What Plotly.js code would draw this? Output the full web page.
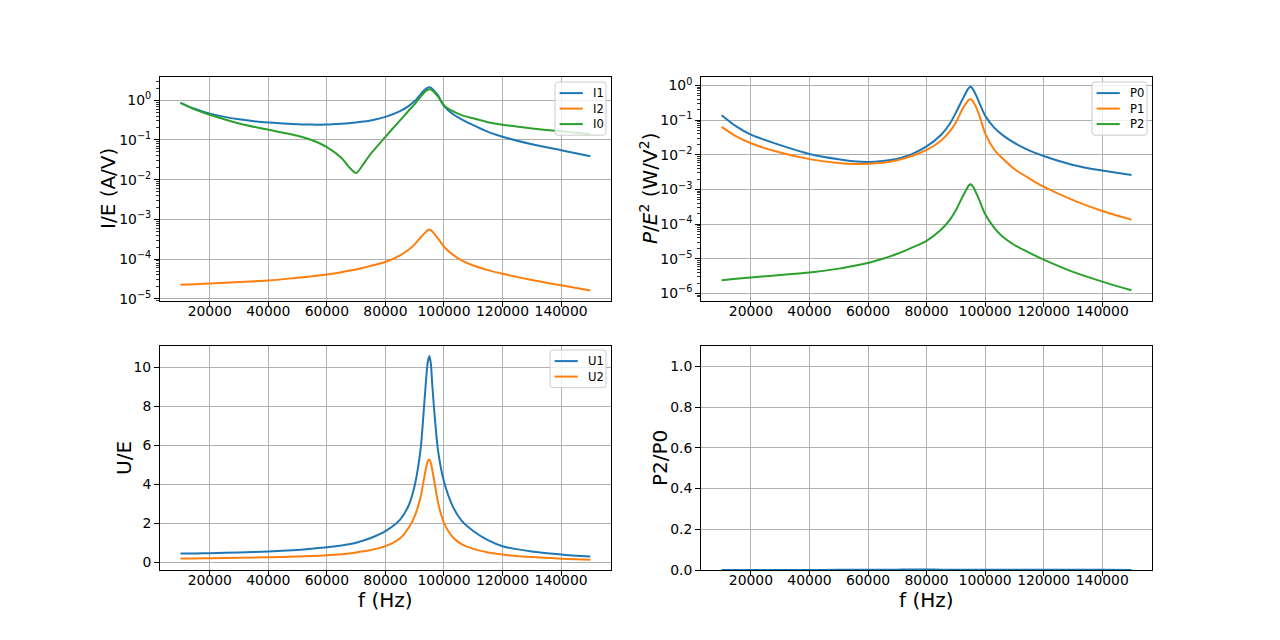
<!DOCTYPE html>
<html>
<head>
<meta charset="utf-8">
<script src="https://cdn.plot.ly/plotly-3.0.1.min.js"></script>
<style>html,body{margin:0;padding:0;background:#fff;}#chart{width:1280px;height:640px;}</style>
</head>
<body>
<div id="chart"></div>
<script>
// Frequency samples (Hz)
const freq = [10000, 15000, 20000, 30000, 40000, 50000, 55000, 60000, 65000, 67500, 70000, 72500, 75000, 80000, 85000, 88000, 90000, 92000, 93000, 94000, 94500, 95000, 95500, 96000, 97000, 98000, 100000, 103000, 106000, 110000, 115000, 120000, 130000, 140000, 150000];

// Currents I/E (A/V)
const I1 = [0.86, 0.60, 0.46, 0.33, 0.274, 0.25, 0.243, 0.245, 0.256, 0.263, 0.274, 0.29, 0.31, 0.38, 0.53, 0.72, 0.95, 1.40, 1.70, 1.98, 2.08, 2.12, 2.07, 1.92, 1.6, 1.3, 0.72, 0.45, 0.33, 0.235, 0.16, 0.12, 0.078, 0.055, 0.039];
const I2 = [2.26e-5, 2.35e-5, 2.45e-5, 2.65e-5, 2.9e-5, 3.4e-5, 3.7e-5, 4.1e-5, 4.7e-5, 5.1e-5, 5.5e-5, 6.1e-5, 6.8e-5, 8.5e-5, 1.25e-4, 1.75e-4, 2.35e-4, 3.5e-4, 4.2e-4, 5.0e-4, 5.4e-4, 5.6e-4, 5.4e-4, 5.0e-4, 4.1e-4, 3.3e-4, 2.05e-4, 1.3e-4, 9.3e-5, 6.9e-5, 5.3e-5, 4.3e-5, 3.0e-5, 2.2e-5, 1.63e-5];
const I0 = [0.86, 0.58, 0.43, 0.26, 0.18, 0.128, 0.098, 0.066, 0.035, 0.021, 0.0148, 0.025, 0.045, 0.12, 0.31, 0.55, 0.80, 1.22, 1.5, 1.75, 1.82, 1.89, 1.85, 1.75, 1.5, 1.22, 0.74, 0.53, 0.42, 0.35, 0.28, 0.24, 0.195, 0.165, 0.142];

// Powers P/E^2 (W/V^2)
const P0 = [0.139, 0.066, 0.038, 0.019, 0.0106, 0.0074, 0.0065, 0.0062, 0.0066, 0.0071, 0.0077, 0.0088, 0.0105, 0.0175, 0.038, 0.08, 0.165, 0.36, 0.52, 0.76, 0.86, 0.92, 0.86, 0.74, 0.5, 0.32, 0.135, 0.062, 0.037, 0.022, 0.0135, 0.0092, 0.0051, 0.0035, 0.0026];
const P1 = [0.064, 0.034, 0.0215, 0.0116, 0.0075, 0.0058, 0.0054, 0.0055, 0.0059, 0.0063, 0.007, 0.0079, 0.0092, 0.0138, 0.026, 0.048, 0.085, 0.19, 0.265, 0.35, 0.39, 0.40, 0.38, 0.33, 0.23, 0.14, 0.042, 0.0145, 0.0078, 0.0039, 0.0021, 0.0012, 0.00049, 0.00024, 0.000135];
const P2 = [2.4e-6, 2.65e-6, 2.9e-6, 3.4e-6, 4.0e-6, 5.2e-6, 6.2e-6, 7.6e-6, 1.0e-5, 1.17e-5, 1.4e-5, 1.7e-5, 2.1e-5, 3.3e-5, 7.0e-5, 1.35e-4, 2.5e-4, 5.5e-4, 8.0e-4, 1.15e-3, 1.32e-3, 1.42e-3, 1.33e-3, 1.15e-3, 7.8e-4, 5.0e-4, 1.95e-4, 8.0e-5, 4.3e-5, 2.5e-5, 1.5e-5, 9.5e-6, 4.2e-6, 2.2e-6, 1.23e-6];

// Voltages U/E
const U1 = [0.466, 0.47, 0.48, 0.52, 0.57, 0.65, 0.71, 0.78, 0.88, 0.94, 1.02, 1.13, 1.26, 1.61, 2.2, 2.95, 3.95, 5.8, 7.6, 9.6, 10.3, 10.58, 10.2, 9.1, 7.2, 5.7, 4.15, 2.88, 2.15, 1.62, 1.15, 0.84, 0.57, 0.42, 0.31];
const U2 = [0.21, 0.215, 0.22, 0.245, 0.27, 0.31, 0.34, 0.375, 0.43, 0.47, 0.52, 0.58, 0.64, 0.84, 1.25, 1.8, 2.38, 3.35, 4.15, 4.95, 5.2, 5.28, 5.12, 4.75, 3.9, 3.05, 2.03, 1.3, 0.95, 0.70, 0.52, 0.41, 0.28, 0.2, 0.14];

// Ratio P2/P0
const RATIO = [1.7e-5, 4.0e-5, 7.6e-5, 1.8e-4, 3.8e-4, 7.0e-4, 9.5e-4, 1.2e-3, 1.5e-3, 1.6e-3, 1.8e-3, 1.9e-3, 2.0e-3, 1.9e-3, 1.8e-3, 1.7e-3, 1.5e-3, 1.5e-3, 1.5e-3, 1.55e-3, 1.55e-3, 1.54e-3, 1.55e-3, 1.55e-3, 1.56e-3, 1.56e-3, 1.45e-3, 1.3e-3, 1.16e-3, 1.14e-3, 1.1e-3, 1.03e-3, 8.2e-4, 6.3e-4, 4.7e-4];

// Tick definitions
const xTicks = [20000, 40000, 60000, 80000, 100000, 120000, 140000];
const logTicksA = [1e-5, 1e-4, 1e-3, 1e-2, 1e-1, 1];
const logTicksB = [1e-6, 1e-5, 1e-4, 1e-3, 1e-2, 1e-1, 1];
const uTicks = [0, 2, 4, 6, 8, 10];
const rTicks = [0, 0.2, 0.4, 0.6, 0.8, 1.0];

const C0 = '#1f77b4', C1 = '#ff7f0e', C2 = '#2ca02c';
const FONT = 'DejaVu Sans, sans-serif';
const TICKFONT = {family: FONT, size: 13.9, color: '#000'};
const TITLESIZE = 20;
const LEGFONT = 11.6;

// plot area in pixels (figure fractions of matplotlib default subplot params)
const M = {l: 160, r: 128, t: 77, b: 70};
const PW = 1280 - M.l - M.r, PH = 640 - M.t - M.b;
const px2x = function (px) { return (px - M.l) / PW; };
const py2y = function (py) { return (640 - M.b - py) / PH; };

function powLabel(v) {
  const e = Math.round(Math.log10(v));
  return '10<sup>' + (e < 0 ? '\u2212' + (-e) : e) + '</sup>';
}
function minorVals(ticks) {
  const out = [];
  ticks.forEach(function (t) { for (let k = 2; k <= 9; k++) out.push(t * k); });
  out.push(ticks[0] / 10 * 9, ticks[0] / 10 * 8);
  return out;
}

function lineTrace(y, name, color, xa, ya) {
  return {x: freq, y: y, name: name, type: 'scatter', mode: 'lines',
    line: {color: color, width: 2, shape: 'spline', smoothing: 0.8},
    xaxis: xa, yaxis: ya, showlegend: false, hoverinfo: 'skip'};
}

const data = [
  lineTrace(I1, 'I1', C0, 'x', 'y'),
  lineTrace(I2, 'I2', C1, 'x', 'y'),
  lineTrace(I0, 'I0', C2, 'x', 'y'),
  lineTrace(P0, 'P0', C0, 'x2', 'y2'),
  lineTrace(P1, 'P1', C1, 'x2', 'y2'),
  lineTrace(P2, 'P2', C2, 'x2', 'y2'),
  lineTrace(U1, 'U1', C0, 'x3', 'y3'),
  lineTrace(U2, 'U2', C1, 'x3', 'y3'),
  lineTrace(RATIO, 'P2/P0', C0, 'x4', 'y4')
];

function xAxis(domain, anchor) {
  return {domain: domain, anchor: anchor, range: [3000, 157000],
    tickmode: 'array', tickvals: xTicks, ticktext: xTicks.map(String),
    ticks: 'outside', ticklen: 5, tickwidth: 1, tickcolor: '#000', ticklabelstandoff: -8,
    showline: true, mirror: true, linecolor: '#000', linewidth: 1,
    showgrid: true, gridcolor: '#b0b0b0', gridwidth: 1, zeroline: false,
    tickfont: TICKFONT, automargin: false};
}
function yAxis(domain, anchor, opts) {
  return Object.assign({domain: domain, anchor: anchor,
    ticks: 'outside', ticklen: 5, tickwidth: 1, tickcolor: '#000',
    showline: true, mirror: true, linecolor: '#000', linewidth: 1,
    showgrid: true, gridcolor: '#b0b0b0', gridwidth: 1, zeroline: false,
    tickfont: TICKFONT, automargin: false}, opts);
}

const shapes = [], annotations = [];

// Axis titles (placed like matplotlib labels)
const axisTitles = [
  {text: 'I/E (A/V)', cx: 108, cy: 189, angle: -90},
  {text: '<i>P</i>/<i>E</i><sup>2</sup> (W/V<sup>2</sup>)', cx: 649, cy: 189, angle: -90},
  {text: 'U/E', cx: 124, cy: 458, angle: -90},
  {text: 'P2/P0', cx: 660, cy: 458, angle: -90},
  {text: 'f (Hz)', cx: 385.5, cy: 600, angle: 0},
  {text: 'f (Hz)', cx: 926.5, cy: 600, angle: 0}
];
axisTitles.forEach(function (t) {
  annotations.push({xref: 'paper', yref: 'paper', x: px2x(t.cx), y: py2y(t.cy),
    xanchor: 'center', yanchor: 'middle', showarrow: false, text: t.text, textangle: t.angle,
    font: {family: FONT, size: TITLESIZE, color: '#000'}, borderpad: 0});
});

// Legends (matplotlib-style framed boxes), built from the traces they describe
const legends = [
  {traces: [0, 1, 2], left: 555, right: 606, top: 82, rowPitch: 15.5},
  {traces: [3, 4, 5], left: 1092, right: 1147, top: 82, rowPitch: 15.5},
  {traces: [6, 7], left: 550, right: 606, top: 350, rowPitch: 15.5}
];
function roundRectPath(x0, y0, x1, y1, r) {
  const rx = r / PW, ry = r / PH;
  const a = px2x(x0), b = px2x(x1), c = py2y(y1), d = py2y(y0);
  return 'M ' + (a + rx) + ' ' + c + ' L ' + (b - rx) + ' ' + c +
    ' Q ' + b + ' ' + c + ' ' + b + ' ' + (c + ry) + ' L ' + b + ' ' + (d - ry) +
    ' Q ' + b + ' ' + d + ' ' + (b - rx) + ' ' + d + ' L ' + (a + rx) + ' ' + d +
    ' Q ' + a + ' ' + d + ' ' + a + ' ' + (d - ry) + ' L ' + a + ' ' + (c + ry) +
    ' Q ' + a + ' ' + c + ' ' + (a + rx) + ' ' + c + ' Z';
}
legends.forEach(function (lg) {
  const pad = 4.6;
  const n = lg.traces.length;
  const bottom = lg.top + 2 * pad + 12 + (n - 1) * lg.rowPitch + 1;
  shapes.push({type: 'path', xref: 'paper', yref: 'paper', layer: 'above',
    path: roundRectPath(lg.left, lg.top, lg.right, bottom, 3),
    fillcolor: 'rgba(255,255,255,0.8)', line: {color: '#cccccc', width: 1}});
  lg.traces.forEach(function (ti, k) {
    const tr = data[ti];
    const cy = lg.top + pad + 6.5 + k * lg.rowPitch;
    const hx0 = lg.left + 4.6, hx1 = hx0 + 23.2;
    shapes.push({type: 'line', xref: 'paper', yref: 'paper', layer: 'above',
      x0: px2x(hx0), x1: px2x(hx1), y0: py2y(cy), y1: py2y(cy),
      line: {color: tr.line.color, width: 2}});
    annotations.push({xref: 'paper', yref: 'paper', x: px2x(hx1 + 9.3), y: py2y(cy),
      xanchor: 'left', yanchor: 'middle', showarrow: false, text: tr.name,
      font: {family: FONT, size: LEGFONT, color: '#000'}, borderpad: 0});
  });
});

const DL = [0, 0.4545], DR = [0.5455, 1];
const DT = [0.5455, 1], DB = [0, 0.4545];

const layout = {
  width: 1280, height: 640,
  margin: {l: M.l, r: M.r, t: M.t, b: M.b, pad: 0},
  paper_bgcolor: '#fff', plot_bgcolor: '#fff',
  font: {family: FONT, color: '#000'},
  showlegend: false,
  xaxis: xAxis(DL, 'y'),
  xaxis2: xAxis(DR, 'y2'),
  xaxis3: xAxis(DL, 'y3'),
  xaxis4: xAxis(DR, 'y4'),
  yaxis: yAxis(DT, 'x', {type: 'log', range: [-5.055, 0.584],
    tickmode: 'array', tickvals: logTicksA, ticktext: logTicksA.map(powLabel),
    minor: {tickmode: 'array', tickvals: minorVals(logTicksA), ticks: 'outside', ticklen: 3, tickwidth: 0.8, tickcolor: '#000', showgrid: false}}),
  yaxis2: yAxis(DT, 'x2', {type: 'log', range: [-6.22, 0.245],
    tickmode: 'array', tickvals: logTicksB, ticktext: logTicksB.map(powLabel),
    minor: {tickmode: 'array', tickvals: minorVals(logTicksB), ticks: 'outside', ticklen: 3, tickwidth: 0.8, tickcolor: '#000', showgrid: false}}),
  yaxis3: yAxis(DB, 'x3', {range: [-0.38, 11.1], tickmode: 'array', tickvals: uTicks, ticktext: uTicks.map(String)}),
  yaxis4: yAxis(DB, 'x4', {range: [0, 1.1], tickmode: 'array', tickvals: rTicks, ticktext: rTicks.map(function (v) { return v.toFixed(1); })}),
  shapes: shapes,
  annotations: annotations
};

Plotly.newPlot('chart', data, layout, {staticPlot: true, displayModeBar: false});
</script>
</body>
</html>
